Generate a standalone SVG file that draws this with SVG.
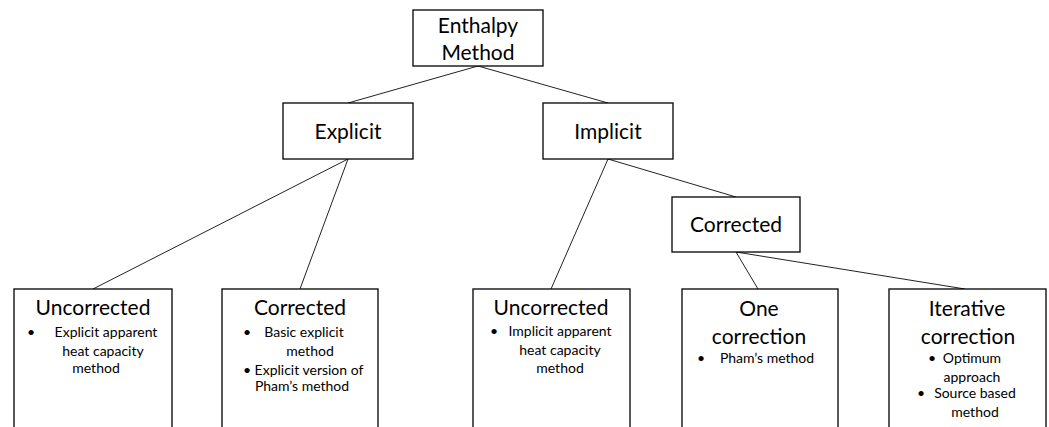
<svg xmlns="http://www.w3.org/2000/svg" width="1049" height="427" viewBox="0 0 1049 427">
<style>
.box{fill:#fff;stroke:#000;stroke-width:1.3}
.h{font-family:Lato,"Liberation Sans",sans-serif;font-size:21px;fill:#000;text-anchor:middle}
.b{font-family:Lato,"Liberation Sans",sans-serif;font-size:14px;fill:#000;text-anchor:middle}
.bl{font-family:Lato,"Liberation Sans",sans-serif;font-size:14px;fill:#000}
.c{stroke:#222;stroke-width:1;fill:none}
</style>
<rect width="1049" height="427" fill="#fff"/>
<g id="connectors">
<line class="c" x1="478" y1="66" x2="348" y2="103"/>
<line class="c" x1="478" y1="66" x2="608" y2="103"/>
<line class="c" x1="348" y1="159" x2="93" y2="289"/>
<line class="c" x1="348" y1="159" x2="300" y2="289"/>
<line class="c" x1="608" y1="159" x2="551" y2="289"/>
<line class="c" x1="608" y1="159" x2="736" y2="197"/>
<line class="c" x1="736" y1="252" x2="758" y2="289"/>
<line class="c" x1="736" y1="252" x2="965" y2="289"/>
</g>
<g id="enthalpy">
<rect class="box" x="413" y="10" width="130" height="56"/>
<text class="h" x="478" y="33">Enthalpy</text>
<text class="h" x="478" y="60">Method</text>
</g>
<g id="explicit">
<rect class="box" x="283" y="103" width="130" height="56"/>
<text class="h" x="348" y="139">Explicit</text>
</g>
<g id="implicit">
<rect class="box" x="543" y="103" width="130" height="56"/>
<text class="h" x="608" y="139">Implicit</text>
</g>
<g id="corrected-implicit">
<rect class="box" x="672" y="197" width="128" height="55"/>
<text class="h" x="736" y="232">Corrected</text>
</g>
<g id="uncorrected-explicit">
<rect class="box" x="14" y="289" width="158" height="150"/>
<text class="h" x="93" y="315">Uncorrected</text>
<text class="bl" x="27" y="337">•</text>
<text class="b" x="106" y="337">Explicit apparent</text>
<text class="b" x="103" y="356">heat capacity</text>
<text class="b" x="96" y="373">method</text>
</g>
<g id="corrected-explicit">
<rect class="box" x="222" y="289" width="156" height="150"/>
<text class="h" x="300" y="315">Corrected</text>
<text class="bl" x="243" y="337">•</text>
<text class="b" x="304" y="337">Basic explicit</text>
<text class="b" x="310" y="356">method</text>
<text class="bl" x="243" y="375">•</text>
<text class="b" x="309" y="375">Explicit version of</text>
<text class="b" x="302" y="391">Pham’s method</text>
</g>
<g id="uncorrected-implicit">
<rect class="box" x="473" y="289" width="157" height="150"/>
<text class="h" x="551" y="315">Uncorrected</text>
<text class="bl" x="490" y="336">•</text>
<text class="b" x="560" y="336">Implicit apparent</text>
<text class="b" x="560" y="355">heat capacity</text>
<text class="b" x="560" y="373">method</text>
</g>
<g id="one-correction">
<rect class="box" x="682" y="289" width="156" height="150"/>
<text class="h" x="759" y="316">One</text>
<text class="h" x="759" y="344">correction</text>
<text class="bl" x="697" y="363">•</text>
<text class="b" x="767" y="363">Pham’s method</text>
</g>
<g id="iterative-correction">
<rect class="box" x="889" y="289" width="157" height="150"/>
<text class="h" x="967" y="316">Iterative</text>
<text class="h" x="968" y="344">correction</text>
<text class="bl" x="928" y="363">•</text>
<text class="b" x="972" y="363">Optimum</text>
<text class="b" x="972" y="382">approach</text>
<text class="bl" x="917" y="398">•</text>
<text class="b" x="975" y="398">Source based</text>
<text class="b" x="975" y="417">method</text>
</g>
</svg>
